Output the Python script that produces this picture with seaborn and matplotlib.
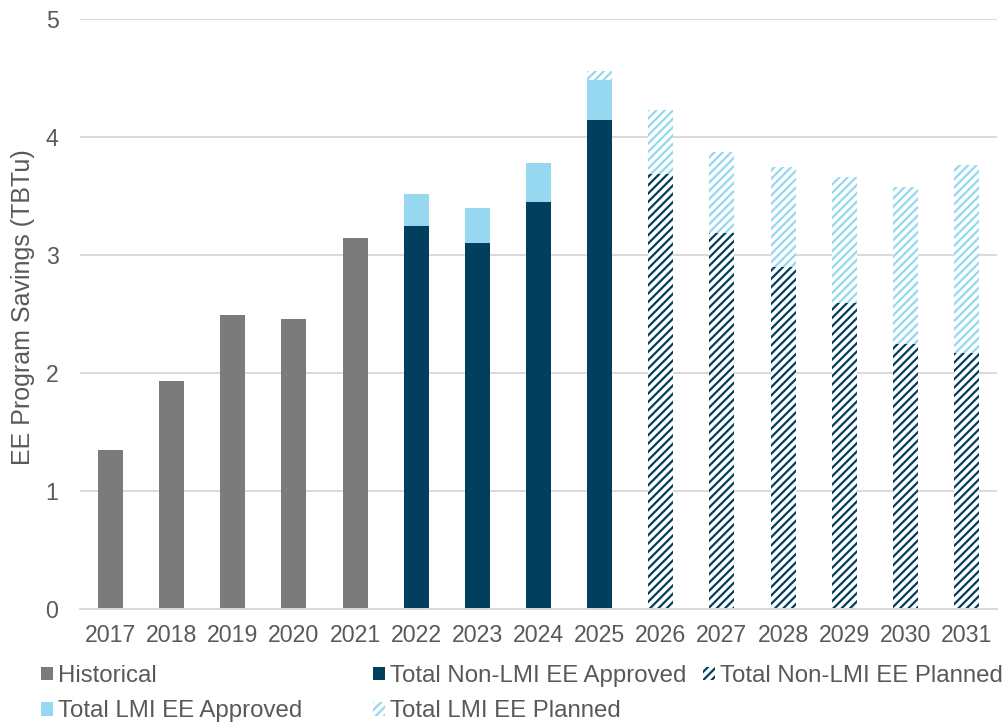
import numpy as np
import pandas as pd
import matplotlib
matplotlib.use("Agg")
import matplotlib.pyplot as plt
import matplotlib.patches as mpatches
import seaborn as sns

# Annual energy-efficiency program savings (TBTu), by segment
years = ["2017", "2018", "2019", "2020", "2021", "2022", "2023", "2024",
         "2025", "2026", "2027", "2028", "2029", "2030", "2031"]
historical = [1.35, 1.93, 2.49, 2.46, 3.14, 0, 0, 0, 0, 0, 0, 0, 0, 0, 0]
nonlmi_approved = [0, 0, 0, 0, 0, 3.25, 3.10, 3.45, 4.14, 0, 0, 0, 0, 0, 0]
lmi_approved = [0, 0, 0, 0, 0, 0.27, 0.30, 0.33, 0.34, 0, 0, 0, 0, 0, 0]
nonlmi_planned = [0, 0, 0, 0, 0, 0, 0, 0, 0, 3.69, 3.19, 2.90, 2.59, 2.25, 2.17]
lmi_planned = [0, 0, 0, 0, 0, 0, 0, 0, 0.08, 0.54, 0.68, 0.85, 1.07, 1.33, 1.59]

GRAY = "#7b7b7b"
NAVY = "#023f5f"
LIGHT = "#95d8f0"
TEXT = "#595959"
GRID = "#d9d9d9"
FS = 16.7
LEG_FS = 17.3

sns.set_style("white")
plt.rcParams["font.family"] = ["Liberation Sans", "DejaVu Sans"]
plt.rcParams["hatch.linewidth"] = 1.6

df = pd.DataFrame({
    "year": years,
    "historical": historical,
    "nonlmi_approved": nonlmi_approved,
    "lmi_approved": lmi_approved,
    "nonlmi_planned": nonlmi_planned,
    "lmi_planned": lmi_planned,
})
# Stack tops: approved segments sit under planned ones
df["top_nonlmi_appr"] = df["nonlmi_approved"]
df["top_lmi_appr"] = df["top_nonlmi_appr"] + df["lmi_approved"]
df["top_nonlmi_plan"] = df["top_lmi_appr"] + df["nonlmi_planned"]
df["top_lmi_plan"] = df["top_nonlmi_plan"] + df["lmi_planned"]

fig = plt.figure(figsize=(10.06, 7.23), dpi=100)
ax = fig.add_axes([80 / 1006, 1 - 609 / 723, 917 / 1006, 590 / 723])

W = 0.41
common = dict(x="year", order=years, width=W, saturation=1, ax=ax,
              errorbar=None)

# Draw from the tallest cumulative layer down so each lower segment covers the one above
sns.barplot(data=df, y="top_lmi_plan", color="white", hatch="////",
            edgecolor=LIGHT, linewidth=0, **common)
sns.barplot(data=df, y="top_nonlmi_plan", color="white", hatch="////",
            edgecolor=NAVY, linewidth=0, **common)
sns.barplot(data=df, y="top_lmi_appr", color=LIGHT, linewidth=0, **common)
sns.barplot(data=df, y="top_nonlmi_appr", color=NAVY, linewidth=0, **common)
sns.barplot(data=df, y="historical", color=GRAY, linewidth=0, **common)

ax.set_ylim(0, 5)
ax.set_yticks(range(0, 6))
ax.set_xlim(-0.5, len(years) - 0.5)
ax.yaxis.grid(True, color=GRID, linewidth=1.4)
ax.set_axisbelow(True)
for s in ["left", "right", "top"]:
    ax.spines[s].set_visible(False)
ax.spines["bottom"].set_color(GRID)
ax.spines["bottom"].set_linewidth(1.4)
ax.tick_params(axis="both", length=0, labelsize=FS, colors=TEXT)
ax.tick_params(axis="y", pad=15.5)
ax.tick_params(axis="x", pad=11)
ax.set_xlabel("")
ax.set_ylabel("EE Program Savings (TBTu)", fontsize=18, color=TEXT)
ax.yaxis.set_label_coords(-45 / 917, 0.512)

# Legend in three columns placed like the workbook layout
h_hist = mpatches.Patch(facecolor=GRAY, linewidth=0)
h_nappr = mpatches.Patch(facecolor=NAVY, linewidth=0)
h_lappr = mpatches.Patch(facecolor=LIGHT, linewidth=0)
h_nplan = mpatches.Patch(facecolor="white", edgecolor=NAVY, hatch="////", linewidth=0)
h_lplan = mpatches.Patch(facecolor="white", edgecolor=LIGHT, hatch="////", linewidth=0)

leg_kw = dict(loc="upper left", frameon=False, fontsize=LEG_FS, handlelength=0.5,
              handleheight=0.5, handletextpad=0.2, borderpad=0, borderaxespad=0,
              labelspacing=0.55, labelcolor=TEXT)
cols = [
    (41, [h_hist, h_lappr], ["Historical", "Total LMI EE Approved"]),
    (373, [h_nappr, h_lplan], ["Total Non-LMI EE Approved", "Total LMI EE Planned"]),
    (703, [h_nplan], ["Total Non-LMI EE Planned"]),
]
for x0, hs, ls in cols:
    fig.legend(hs, ls, bbox_to_anchor=(x0 / 1006, 1 - 665 / 723), **leg_kw)

fig.savefig("out.png", dpi=100)
